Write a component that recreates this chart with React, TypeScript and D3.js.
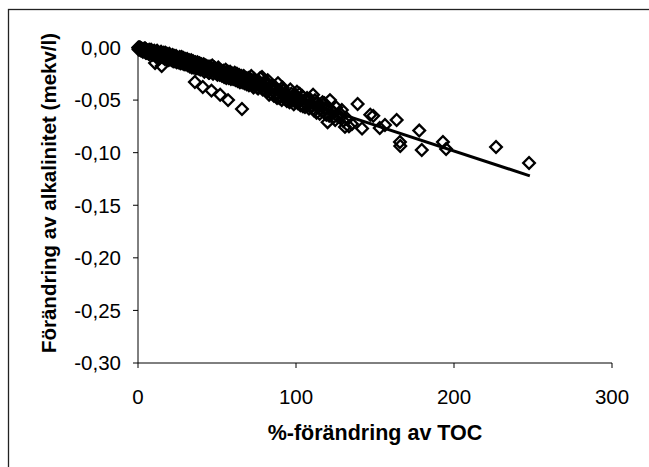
import React from 'react';
import * as d3 from 'd3';

// % change in TOC (x) vs change in alkalinity, mekv/l (y)
const tocChange = [
  0.2, 0.5, 0.8, 1.1, 1.5, 1.9, 2.3, 2.7, 3.1, 3.5, 4.0, 4.4, 4.9, 5.3, 5.8, 6.2, 6.7, 7.1, 7.6, 8.0, 8.6, 9.1, 9.7,
  10.3, 10.8, 11.2, 11.8, 12.4, 13.0, 13.5, 14.1, 14.6, 15.0, 15.3, 16.0, 16.7, 17.3, 18.0, 18.6, 19.2, 19.8,
  20.5, 21.2, 21.9, 22.6, 23.4, 24.1, 24.9, 25.6, 26.4, 27.2, 28.0, 28.8, 29.5,
  30.3, 31.1, 32.0, 32.8, 33.7, 34.5, 35.4, 36.0, 36.3, 37.2, 38.1, 39.0, 39.8,
  40.7, 41.0, 41.6, 42.5, 43.4, 44.3, 45.2, 46.1, 46.5, 47.0, 48.0, 48.9, 49.8,
  50.8, 51.7, 52.0, 52.6, 53.6, 54.5, 55.5, 56.4, 57.0, 57.4, 58.3, 59.3,
  60.2, 61.2, 62.1, 63.1, 64.0, 65.0, 65.8, 66.0, 66.9, 67.9, 68.8, 69.8,
  70.7, 71.7, 72.6, 73.6, 74.5, 75.5, 76.4, 77.4, 78.5, 79.3,
  80.2, 81.2, 82.1, 83.5, 84.0, 85.0, 86.0, 87.0, 88.6, 89.5,
  90.3, 91.5, 93.0, 94.2, 95.3, 96.4, 97.5, 98.6, 99.5,
  100.6, 101.7, 102.8, 103.9, 105.0, 105.7, 107.0, 108.2, 109.3,
  110.8, 112.0, 113.0, 114.2, 115.5, 116.8, 118.0, 119.2, 120.0,
  121.5, 122.8, 124.0, 125.5, 126.6, 127.8, 129.0, 131.0, 132.5, 135.4,
  139.0, 141.8, 147.0, 148.9, 153.0, 156.3, 163.7, 165.8, 166.0, 178.0, 179.6, 193.0, 195.0, 226.6, 247.5,
];

const alkChange = [
  0.0, -0.001, 0.0, -0.002, -0.001, -0.003, -0.001, -0.002, -0.004, -0.002, -0.001, -0.003, -0.005, -0.002, -0.004, -0.003, -0.006, -0.002, -0.004, -0.005, -0.003, -0.006, -0.004,
  -0.003, -0.0147, -0.006, -0.004, -0.008, -0.005, -0.007, -0.009, -0.004, -0.0176, -0.006, -0.008, -0.010, -0.005, -0.007, -0.011, -0.008, -0.006,
  -0.009, -0.012, -0.007, -0.010, -0.013, -0.008, -0.011, -0.014, -0.009, -0.012, -0.015, -0.010, -0.013,
  -0.016, -0.011, -0.014, -0.018, -0.012, -0.016, -0.019, -0.0328, -0.014, -0.017, -0.020, -0.015, -0.018,
  -0.021, -0.0375, -0.016, -0.019, -0.022, -0.018, -0.024, -0.020, -0.041, -0.017, -0.023, -0.021, -0.025,
  -0.019, -0.026, -0.045, -0.022, -0.024, -0.028, -0.021, -0.025, -0.050, -0.029, -0.023, -0.027,
  -0.030, -0.024, -0.028, -0.032, -0.026, -0.030, -0.0585, -0.033, -0.027, -0.031, -0.035, -0.029,
  -0.033, -0.027, -0.036, -0.030, -0.034, -0.038, -0.032, -0.029, -0.028, -0.036,
  -0.040, -0.034, -0.031, -0.0385, -0.043, -0.036, -0.046, -0.040, -0.034, -0.048,
  -0.042, -0.038, -0.0435, -0.051, -0.046, -0.040, -0.050, -0.054, -0.045,
  -0.042, -0.049, -0.055, -0.046, -0.052, -0.0565, -0.048, -0.058, -0.053,
  -0.045, -0.050, -0.062, -0.055, -0.059, -0.052, -0.053, -0.064, -0.071,
  -0.050, -0.060, -0.066, -0.057, -0.066, -0.0625, -0.0594, -0.0755, -0.068, -0.0727,
  -0.0537, -0.077, -0.064, -0.065, -0.0765, -0.0737, -0.069, -0.0898, -0.0936, -0.079, -0.0974, -0.0898, -0.0965, -0.0946, -0.1098,
];

// more sites inside the dense band (0-135 %)
const bandToc = [
  0.4, 1.3, 2.0, 2.9, 3.8, 4.6, 5.5, 6.4, 7.3, 8.3, 9.4, 10.0, 10.9, 11.5, 12.1, 12.8, 13.7, 14.4, 15.6, 16.3, 17.0, 17.7, 18.3, 19.0, 19.5,
  20.1, 20.8, 21.6, 22.3, 23.0, 23.8, 24.5, 25.3, 26.0, 26.8, 27.6, 28.4, 29.2, 29.9, 30.7, 31.5, 32.4, 33.2, 34.1, 34.9, 35.8, 36.7, 37.6, 38.5, 39.4,
  40.2, 41.2, 42.0, 42.9, 43.8, 44.7, 45.6, 46.6, 47.5, 48.4, 49.3, 50.3, 51.2, 52.2, 53.1, 54.0, 55.0, 55.9, 56.9, 57.9, 58.8, 59.8,
  60.7, 61.7, 62.6, 63.6, 64.5, 65.5, 66.4, 67.4, 68.3, 69.3, 70.2, 71.2, 72.1, 73.1, 74.0, 75.0, 76.0, 76.9, 77.9, 78.9, 79.8,
  80.7, 81.7, 82.6, 83.0, 84.5, 85.5, 86.5, 87.5, 88.0, 89.0, 90.0, 91.0, 92.0, 92.5, 93.6, 94.8, 95.9, 97.0, 98.0, 99.0,
  100.2, 101.2, 102.3, 103.4, 104.4, 106.3, 107.6, 108.8, 110.0, 111.4, 112.6, 113.8, 115.0, 116.2, 117.4, 118.6, 121.0, 123.4, 124.8, 128.4, 130.0, 133.5,
];

const bandAlk = [
  -0.002, 0.0, -0.002, -0.003, -0.003, -0.001, -0.005, -0.004, -0.006, -0.002, -0.007, -0.005, -0.007, -0.009, -0.003, -0.006, -0.010, -0.007, -0.009, -0.005, -0.011, -0.008, -0.006, -0.010, -0.012,
  -0.007, -0.011, -0.009, -0.013, -0.008, -0.011, -0.014, -0.010, -0.012, -0.015, -0.009, -0.013, -0.016, -0.011, -0.014, -0.017, -0.012, -0.015, -0.019, -0.013, -0.017, -0.020, -0.014, -0.018, -0.021,
  -0.016, -0.019, -0.023, -0.017, -0.020, -0.024, -0.018, -0.022, -0.025, -0.019, -0.023, -0.026, -0.021, -0.024, -0.027, -0.022, -0.026, -0.029, -0.023, -0.027, -0.030, -0.025,
  -0.028, -0.031, -0.025, -0.029, -0.033, -0.027, -0.031, -0.034, -0.029, -0.032, -0.036, -0.030, -0.034, -0.038, -0.031, -0.035, -0.039, -0.033, -0.037, -0.040, -0.033,
  -0.037, -0.042, -0.035, -0.045, -0.039, -0.042, -0.037, -0.044, -0.048, -0.041, -0.046, -0.050, -0.041, -0.047, -0.044, -0.048, -0.052, -0.044, -0.047, -0.051,
  -0.047, -0.053, -0.044, -0.050, -0.056, -0.050, -0.055, -0.049, -0.056, -0.060, -0.053, -0.057, -0.063, -0.056, -0.061, -0.058, -0.065, -0.062, -0.069, -0.066, -0.070, -0.075,
];

// linear trend line end points
const trendX = [0, 248];
const trendY = [0, -0.122];

const xTicks = [0, 100, 200, 300];
const yTicks = [0, -0.05, -0.1, -0.15, -0.2, -0.25, -0.3];

const W = 649;
const H = 467;
const FONT = '"Liberation Sans", Arial, sans-serif';

export default function App() {
  const x = d3.scaleLinear().domain([0, 300]).range([138, 612]);
  const y = d3.scaleLinear().domain([-0.3, 0]).range([363, 47.5]);

  const points = [
    ...tocChange.map((v, i) => ({ x: v, y: alkChange[i] })),
    ...bandToc.map((v, i) => ({ x: v, y: bandAlk[i] })),
  ];
  const trend = trendX.map((v, i) => ({ x: v, y: trendY[i] }));

  const diamond = d3.symbol().type(d3.symbolSquare).size(68)();
  const line = d3.line<{ x: number; y: number }>().x(d => x(d.x)).y(d => y(d.y));
  const fmt = (v: number) => v.toFixed(2).replace('.', ',');

  return (
    <svg width={W} height={H} style={{ position: 'absolute', left: 0, top: 0, background: '#fff' }}>
      <rect x={8.5} y={9.5} width={700} height={500} fill="#fff" stroke="#222" strokeWidth={1.3} />

      {/* y axis */}
      <line x1={x(0)} x2={x(0)} y1={y(0)} y2={y(-0.3)} stroke="#000" />
      {yTicks.map(t => (
        <g key={t}>
          <line x1={x(0) - 5} x2={x(0)} y1={y(t)} y2={y(t)} stroke="#000" />
          <text x={121} y={y(t)} dy="0.36em" textAnchor="end" fontFamily={FONT} fontSize={20.5} fill="#000">
            {fmt(t)}
          </text>
        </g>
      ))}

      {/* x axis */}
      <line x1={x(0)} x2={x(300)} y1={y(-0.3)} y2={y(-0.3)} stroke="#000" />
      {xTicks.map(t => (
        <g key={t}>
          <line x1={x(t)} x2={x(t)} y1={y(-0.3)} y2={y(-0.3) + 5} stroke="#000" />
          <text x={x(t)} y={404} textAnchor="middle" fontFamily={FONT} fontSize={20.5} fill="#000">
            {t}
          </text>
        </g>
      ))}

      {/* points */}
      {points.map((p, i) => (
        <path
          key={i}
          d={diamond}
          transform={`translate(${x(p.x)},${y(p.y)}) rotate(45)`}
          fill="none"
          stroke="#000"
          strokeWidth={2.3}
        />
      ))}

      {/* trend line */}
      <path d={line(trend) || ''} fill="none" stroke="#000" strokeWidth={3} />

      <text x={375} y={440} textAnchor="middle" fontFamily={FONT} fontSize={21.5} fontWeight="bold" fill="#000">
        %-förändring av TOC
      </text>
      <text
        transform={`translate(56,193) rotate(-90)`}
        textAnchor="middle"
        fontFamily={FONT}
        fontSize={20.5}
        fontWeight="bold"
        fill="#000"
      >
        Förändring av alkalinitet (mekv/l)
      </text>
    </svg>
  );
}
